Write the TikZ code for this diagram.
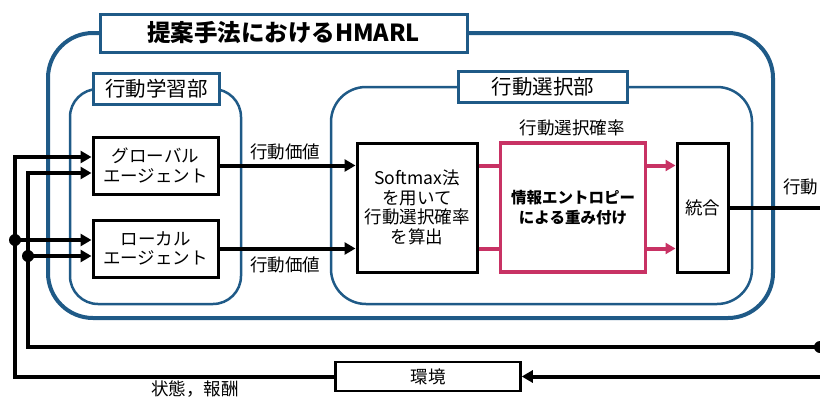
\documentclass[tikz,border=0pt]{standalone}
\usepackage{fontspec}
\setmainfont{Noto Sans CJK JP}
\usetikzlibrary{arrows.meta,calc}
\definecolor{hblue}{RGB}{31,90,135}
\definecolor{hpink}{RGB}{200,50,100}
\begin{document}
\begin{tikzpicture}[x=1pt,y=-1pt,
 blk/.style={draw=black, line width=3pt, fill=white, inner sep=0pt, align=center, font=\fontsize{17.5}{19.5}\selectfont},
 lbl/.style={draw=hblue, line width=2.5pt, fill=white, inner sep=0pt, font=\fontsize{20.5}{24}\selectfont},
 txt/.style={inner sep=0pt, font=\fontsize{17.5}{20}\selectfont},
 arr/.style={line width=4pt, -{Triangle[length=11pt,width=12pt]}},
 parr/.style={hpink, line width=4pt, -{Triangle[length=10pt,width=11pt]}},
 ln/.style={line width=4pt},
 dot/.style={circle, fill=black, inner sep=0pt, minimum size=12pt},
 grp/.style={draw=hblue, line width=2.5pt}
]
\useasboundingbox (0,0) rectangle (820,399);
% group frames
\draw[grp, line width=4pt, rounded corners=45pt] (48,33) rectangle (773,318);
\draw[grp, rounded corners=28pt] (70,89) rectangle (241,304);
\draw[grp, rounded corners=35pt] (331,87) rectangle (752,304);
\node[lbl, line width=3pt, minimum width=367pt, minimum height=38pt, font=\fontsize{23.5}{26}\selectfont\bfseries] (title) at (283.5,33) {提案手法におけるHMARL};
\node[lbl, minimum width=126pt, minimum height=31pt] (lgl) at (156.5,89) {行動学習部};
\node[lbl, minimum width=169pt, minimum height=31pt] (sel) at (543,87) {行動選択部};
% blocks
\node[blk, minimum width=125pt, minimum height=57pt] (glob) at (155.5,165.5) {グローバル\\エージェント};
\node[blk, minimum width=125pt, minimum height=57pt] (loc) at (155.5,248.5) {ローカル\\エージェント};
\node[blk, minimum width=120pt, minimum height=129pt] (soft) at (417,207.5) {Softmax法\\を用いて\\行動選択確率\\を算出};
\node[blk, draw=hpink, line width=3.5pt, minimum width=145pt, minimum height=129pt, font=\fontsize{15.5}{19.5}\selectfont\bfseries] (pink) at (573,207.5) {情報エントロピー\\による重み付け};
\node[blk, minimum width=51pt, minimum height=129pt] (tog) at (702.5,207.5) {統合};
\node[blk, line width=2.5pt, minimum width=185pt, minimum height=29pt, font=\fontsize{17.5}{20}\selectfont] (env) at (428,376.5) {環境};
% connectors between blocks
\draw[arr] (glob.east) -- (glob.east -| soft.west);
\draw[arr] (loc.east) -- (loc.east -| soft.west);
\draw[hpink, line width=4pt] (soft.east |- glob.east) -- (pink.west |- glob.east);
\draw[hpink, line width=4pt] (soft.east |- loc.east) -- (pink.west |- loc.east);
\draw[parr] (pink.east |- glob.east) -- (tog.west |- glob.east);
\draw[parr] (pink.east |- loc.east) -- (tog.west |- loc.east);
\coordinate (r0) at (820,208);
\draw[ln] (tog.east) -- (tog.east -| r0);
% labels
\node[txt] (v1) at (285,152) {行動価値};
\node[txt] (v2) at (285,265) {行動価値};
\node[txt] (p1) at (572,128) {行動選択確率};
\node[txt, anchor=west] (act) at (783,187) {行動};
\node[txt] (st) at (195,389) {状態，報酬};
% feedback loops
\coordinate (g1) at ($(glob.west)+(0,-8.5)$);
\coordinate (g2) at ($(glob.west)+(0,7.5)$);
\coordinate (l1) at ($(loc.west)+(0,-8.5)$);
\coordinate (l2) at ($(loc.west)+(0,7.5)$);
\coordinate (c1) at (15,157);
\coordinate (c2) at (28,173);
\coordinate (r1) at (820,376.5);
\coordinate (r2) at (820,347);
\draw[arr] (env.west) -| (c1) -- (g1);
\draw[arr] (r2) -| (c2) -- (g2);
\node[dot] (d1) at (c1 |- l1) {};
\node[dot] (d2) at (c2 |- l2) {};
\node[dot] (d3) at (r2) {};
\draw[arr] (d1.center) -- (l1);
\draw[arr] (d2.center) -- (l2);
\draw[arr] (r1) -- (env.east);
\end{tikzpicture}
\end{document}
